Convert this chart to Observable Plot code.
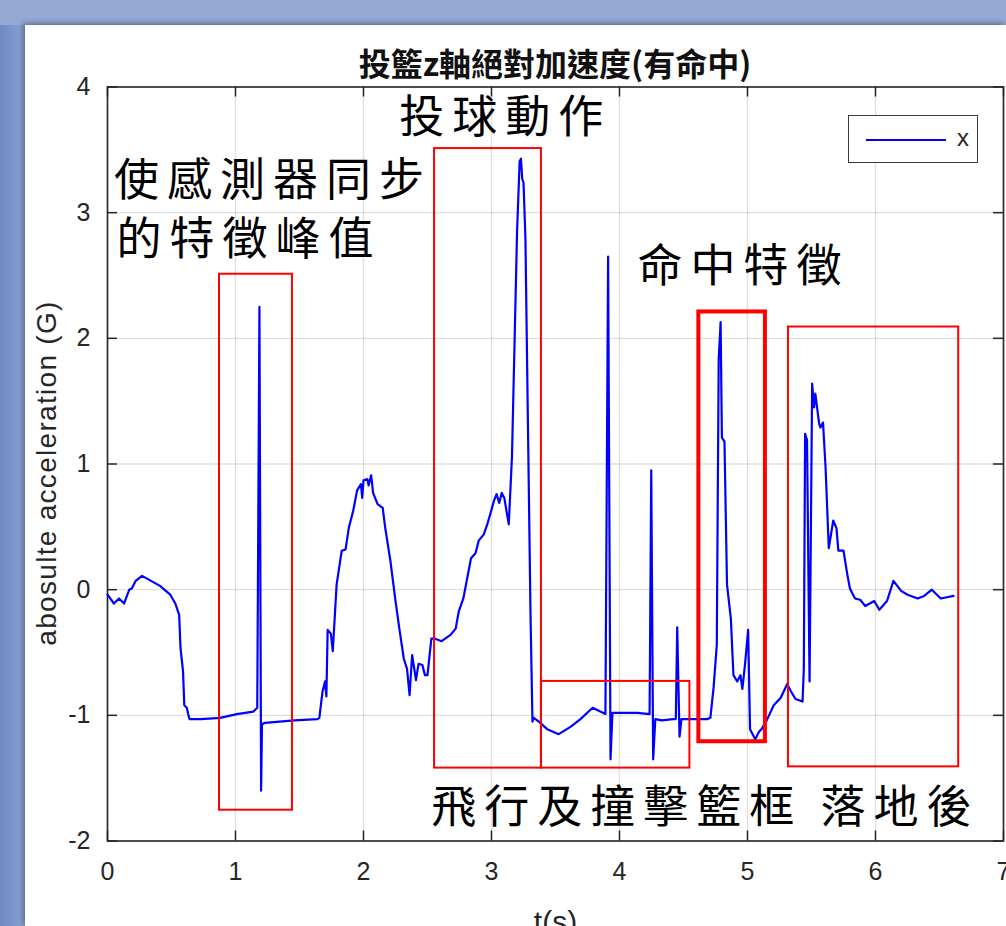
<!DOCTYPE html>
<html>
<head>
<meta charset="utf-8">
<script src="https://cdn.jsdelivr.net/npm/d3@7"></script>
<script src="https://cdn.jsdelivr.net/npm/@observablehq/plot@0.6"></script>
<style>
  html, body { margin: 0; padding: 0; }
  body { width: 1006px; height: 926px; position: relative; overflow: hidden; background: #95a9d5; }
  #leftband { position: absolute; left: 0; top: 25px; width: 25px; height: 901px; background: linear-gradient(to right, #6f8bc5, #8aa1d3); }
  #panel { position: absolute; left: 25px; top: 25px; width: 981px; height: 901px; background: #fff; box-shadow: -2px -2px 5px rgba(0,0,0,0.35); }
  #chart { position: absolute; left: 25px; top: 25px; }
  #title { position: absolute; left: 255px; width: 600px; top: 46px; text-align: center; font-family: "Noto Sans CJK TC", sans-serif; font-weight: bold; font-size: 32px; line-height: 32px; color: #111; }
  #legend { position: absolute; left: 848px; top: 115px; width: 128px; height: 46px; border: 1.5px solid #3a3a3a; background: #fff; }
  #legend svg { position: absolute; left: 0; top: 0; }
  #legend span { position: absolute; left: 108px; top: 8px; font-family: "Liberation Sans", Arial, sans-serif; font-size: 24px; color: #262626; }
</style>
</head>
<body>
<div id="leftband"></div>
<div id="panel"></div>
<div id="chart"></div>
<div id="title">投籃z軸絕對加速度(有命中)</div>
<div id="legend"><svg width="128" height="46"><line x1="17" x2="97" y1="24" y2="24" stroke="#0000ff" stroke-width="2"></line></svg><span>x</span></div>
<script>
// ---- data ----
const times = [
  0.00, 0.05, 0.09, 0.13, 0.17, 0.19, 0.22, 0.27, 0.34, 0.41, 0.49, 0.53, 0.56, 0.57, 0.59, 0.60, 0.62, 0.63, 0.64, 0.73,
  0.88, 1.01, 1.14, 1.17, 1.187, 1.200, 1.207, 1.23, 1.46, 1.64, 1.655, 1.68, 1.70, 1.71, 1.72, 1.745, 1.76, 1.79, 1.83, 1.86,
  1.885, 1.92, 1.95, 1.98, 1.99, 2.00, 2.03, 2.04, 2.06, 2.075, 2.11, 2.15, 2.17, 2.21, 2.25, 2.28, 2.315, 2.34, 2.36, 2.38,
  2.41, 2.43, 2.46, 2.48, 2.50, 2.53, 2.56, 2.61, 2.68, 2.72, 2.745, 2.78, 2.81, 2.84, 2.875, 2.90, 2.94, 2.97, 2.99, 3.02,
  3.04, 3.06, 3.08, 3.10, 3.135, 3.16, 3.20, 3.22, 3.23, 3.24, 3.25, 3.265, 3.305, 3.32, 3.33, 3.37, 3.435, 3.525, 3.62, 3.695,
  3.79, 3.85, 3.89, 3.911, 3.93, 3.945, 4.01, 4.14, 4.235, 4.248, 4.263, 4.28, 4.33, 4.42, 4.44, 4.451, 4.469, 4.484, 4.53, 4.685,
  4.71, 4.735, 4.76, 4.775, 4.79, 4.80, 4.82, 4.84, 4.87, 4.89, 4.92, 4.945, 4.96, 4.98, 5.005, 5.02, 5.06, 5.09, 5.11, 5.15,
  5.205, 5.26, 5.31, 5.34, 5.375, 5.43, 5.44, 5.45, 5.465, 5.485, 5.505, 5.52, 5.53, 5.56, 5.57, 5.59, 5.61, 5.635, 5.67, 5.695,
  5.71, 5.75, 5.78, 5.80, 5.84, 5.88, 5.92, 5.99, 6.03, 6.09, 6.14, 6.20, 6.25, 6.33, 6.38, 6.44, 6.51, 6.61
];
const accel = [
  -0.04, -0.11, -0.07, -0.11, 0.00, 0.01, 0.07, 0.11, 0.07, 0.03, -0.04, -0.11, -0.20, -0.46, -0.65, -0.92, -0.94, -0.99, -1.03, -1.03,
  -1.02, -0.99, -0.97, -0.94, 2.25, -1.60, -1.07, -1.06, -1.04, -1.03, -1.02, -0.81, -0.73, -0.85, -0.32, -0.35, -0.49, 0.04, 0.31, 0.32,
  0.49, 0.63, 0.79, 0.84, 0.73, 0.87, 0.88, 0.83, 0.91, 0.77, 0.68, 0.65, 0.49, 0.23, -0.09, -0.31, -0.55, -0.63, -0.84, -0.52,
  -0.72, -0.59, -0.60, -0.68, -0.68, -0.39, -0.39, -0.41, -0.36, -0.31, -0.17, -0.07, 0.09, 0.25, 0.29, 0.39, 0.44, 0.53, 0.60, 0.71,
  0.76, 0.69, 0.77, 0.73, 0.52, 1.06, 2.86, 3.41, 3.43, 3.27, 3.24, 2.80, -0.21, -1.05, -1.02, -1.05, -1.11, -1.15, -1.09, -1.03,
  -0.94, -0.97, -0.99, 2.65, -1.35, -0.98, -0.98, -0.98, -0.99, 0.95, -1.35, -1.03, -1.04, -1.03, -1.03, -0.30, -1.17, -1.03, -1.03, -1.03,
  -1.02, -0.78, -0.44, 1.83, 2.13, 1.21, 1.18, 0.04, -0.23, -0.68, -0.73, -0.68, -0.79, -0.60, -0.32, -1.11, -1.19, -1.13, -1.11, -1.04,
  -0.92, -0.86, -0.75, -0.81, -0.87, -0.89, -0.63, 1.24, 1.19, -0.73, 1.64, 1.45, 1.56, 1.32, 1.29, 1.33, 0.97, 0.33, 0.55, 0.49,
  0.31, 0.31, 0.12, 0.01, -0.07, -0.08, -0.13, -0.09, -0.16, -0.09, 0.07, -0.01, -0.04, -0.07, -0.05, 0.00, -0.07, -0.05
];
const seriesName = "x";
const xTicks = [0, 1, 2, 3, 4, 5, 6, 7];
const yTicks = [-2, -1, 0, 1, 2, 3, 4];
const xLabel = "t(s)";
const yLabel = "abosulte acceleration (G)";

// annotation boxes (data units)
const boxNames = ["sync", "throw", "flight", "hit", "landing"];
const boxT1 = [0.875, 2.555, 3.39, 4.62, 5.32];
const boxT2 = [1.445, 3.39, 4.55, 5.14, 6.65];
const boxTop = [2.51, 3.51, -0.73, 2.21, 2.09];
const boxBottom = [-1.755, -1.42, -1.42, -1.21, -1.41];

// annotation texts (left edge, vertical centre; data units)
const noteText = ["投球動作", "使感測器同步", "的特徵峰值", "命中特徵", "飛行及撞擊籃框 落地後"];
const noteT = [2.28, 0.05, 0.07, 4.14, 2.53];
const noteY = [3.75, 3.25, 2.78, 2.56, -1.74];

// ---- tables ----
const data = times.map((t, i) => ({t, a: accel[i], series: seriesName}));
const boxes = boxNames.map((n, i) => ({name: n, x1: boxT1[i], x2: boxT2[i], y1: boxBottom[i], y2: boxTop[i]}));
const notes = noteText.map((s, i) => ({text: s, t: noteT[i], y: noteY[i]}));

const W = 981, H = 901;
const mL = 82, mR = 3, mT = 61.5, mB = 85.5;
const innerW = W - mL - mR, innerH = H - mT - mB;
const axisColor = "#262626";

const chart = Plot.plot({
  width: W, height: H,
  marginLeft: mL, marginRight: mR, marginTop: mT, marginBottom: mB,
  x: {domain: [0, 7]},
  y: {domain: [-2, 4]},
  style: {background: "white", fontFamily: "'Liberation Sans', Arial, sans-serif", color: axisColor, overflow: "visible"},
  marks: [
    Plot.gridX(xTicks, {stroke: "#000", strokeOpacity: 0.12, strokeWidth: 1.4}),
    Plot.gridY(yTicks, {stroke: "#000", strokeOpacity: 0.12, strokeWidth: 1.4}),
    Plot.frame({stroke: axisColor, strokeWidth: 1.6}),
    Plot.tickX(xTicks, {x: d => d, insetTop: innerH - 10, stroke: axisColor, strokeWidth: 1.5}),
    Plot.tickX(xTicks, {x: d => d, insetBottom: innerH - 10, stroke: axisColor, strokeWidth: 1.5}),
    Plot.tickY(yTicks, {y: d => d, insetRight: innerW - 10, stroke: axisColor, strokeWidth: 1.5}),
    Plot.tickY(yTicks, {y: d => d, insetLeft: innerW - 10, stroke: axisColor, strokeWidth: 1.5}),
    Plot.axisX({ticks: xTicks, tickSize: 0, tickPadding: 21, fontSize: 25, tickFormat: d => String(d), label: null}),
    Plot.axisY({ticks: yTicks, tickSize: 0, tickPadding: 17, fontSize: 25, tickFormat: d => String(d), label: null}),
    Plot.text([xLabel], {frameAnchor: "bottom", dy: 70, lineAnchor: "top", fontSize: 30, fill: axisColor}),
    Plot.text([yLabel], {frameAnchor: "left", textAnchor: "middle", dx: -60, dy: 9, rotate: -90, fontSize: 28, fill: axisColor}),
    Plot.line(data, {x: "t", y: "a", stroke: "#0000ff", strokeWidth: 2.2, strokeLinejoin: "round"}),
    Plot.rect(boxes.filter(b => b.name !== "hit"), {x1: "x1", x2: "x2", y1: "y1", y2: "y2", fill: "none", stroke: "#ff0000", strokeWidth: 2}),
    Plot.rect(boxes.filter(b => b.name === "hit"), {x1: "x1", x2: "x2", y1: "y1", y2: "y2", fill: "none", stroke: "#ff0000", strokeWidth: 4}),
    Plot.text(notes, {x: "t", y: "y", text: "text", textAnchor: "start", fontSize: 45, fill: "#000",
      fontFamily: "'Noto Sans CJK TC', sans-serif"})
  ]
});
const svgSel = d3.select(chart);
svgSel.selectAll("text").filter(function () { return noteText.includes(this.textContent); }).attr("letter-spacing", "8px");
svgSel.selectAll("text").filter(function () { return this.textContent === yLabel; }).attr("letter-spacing", "1.3px");
document.getElementById("chart").appendChild(chart);
</script>
</body>
</html>
